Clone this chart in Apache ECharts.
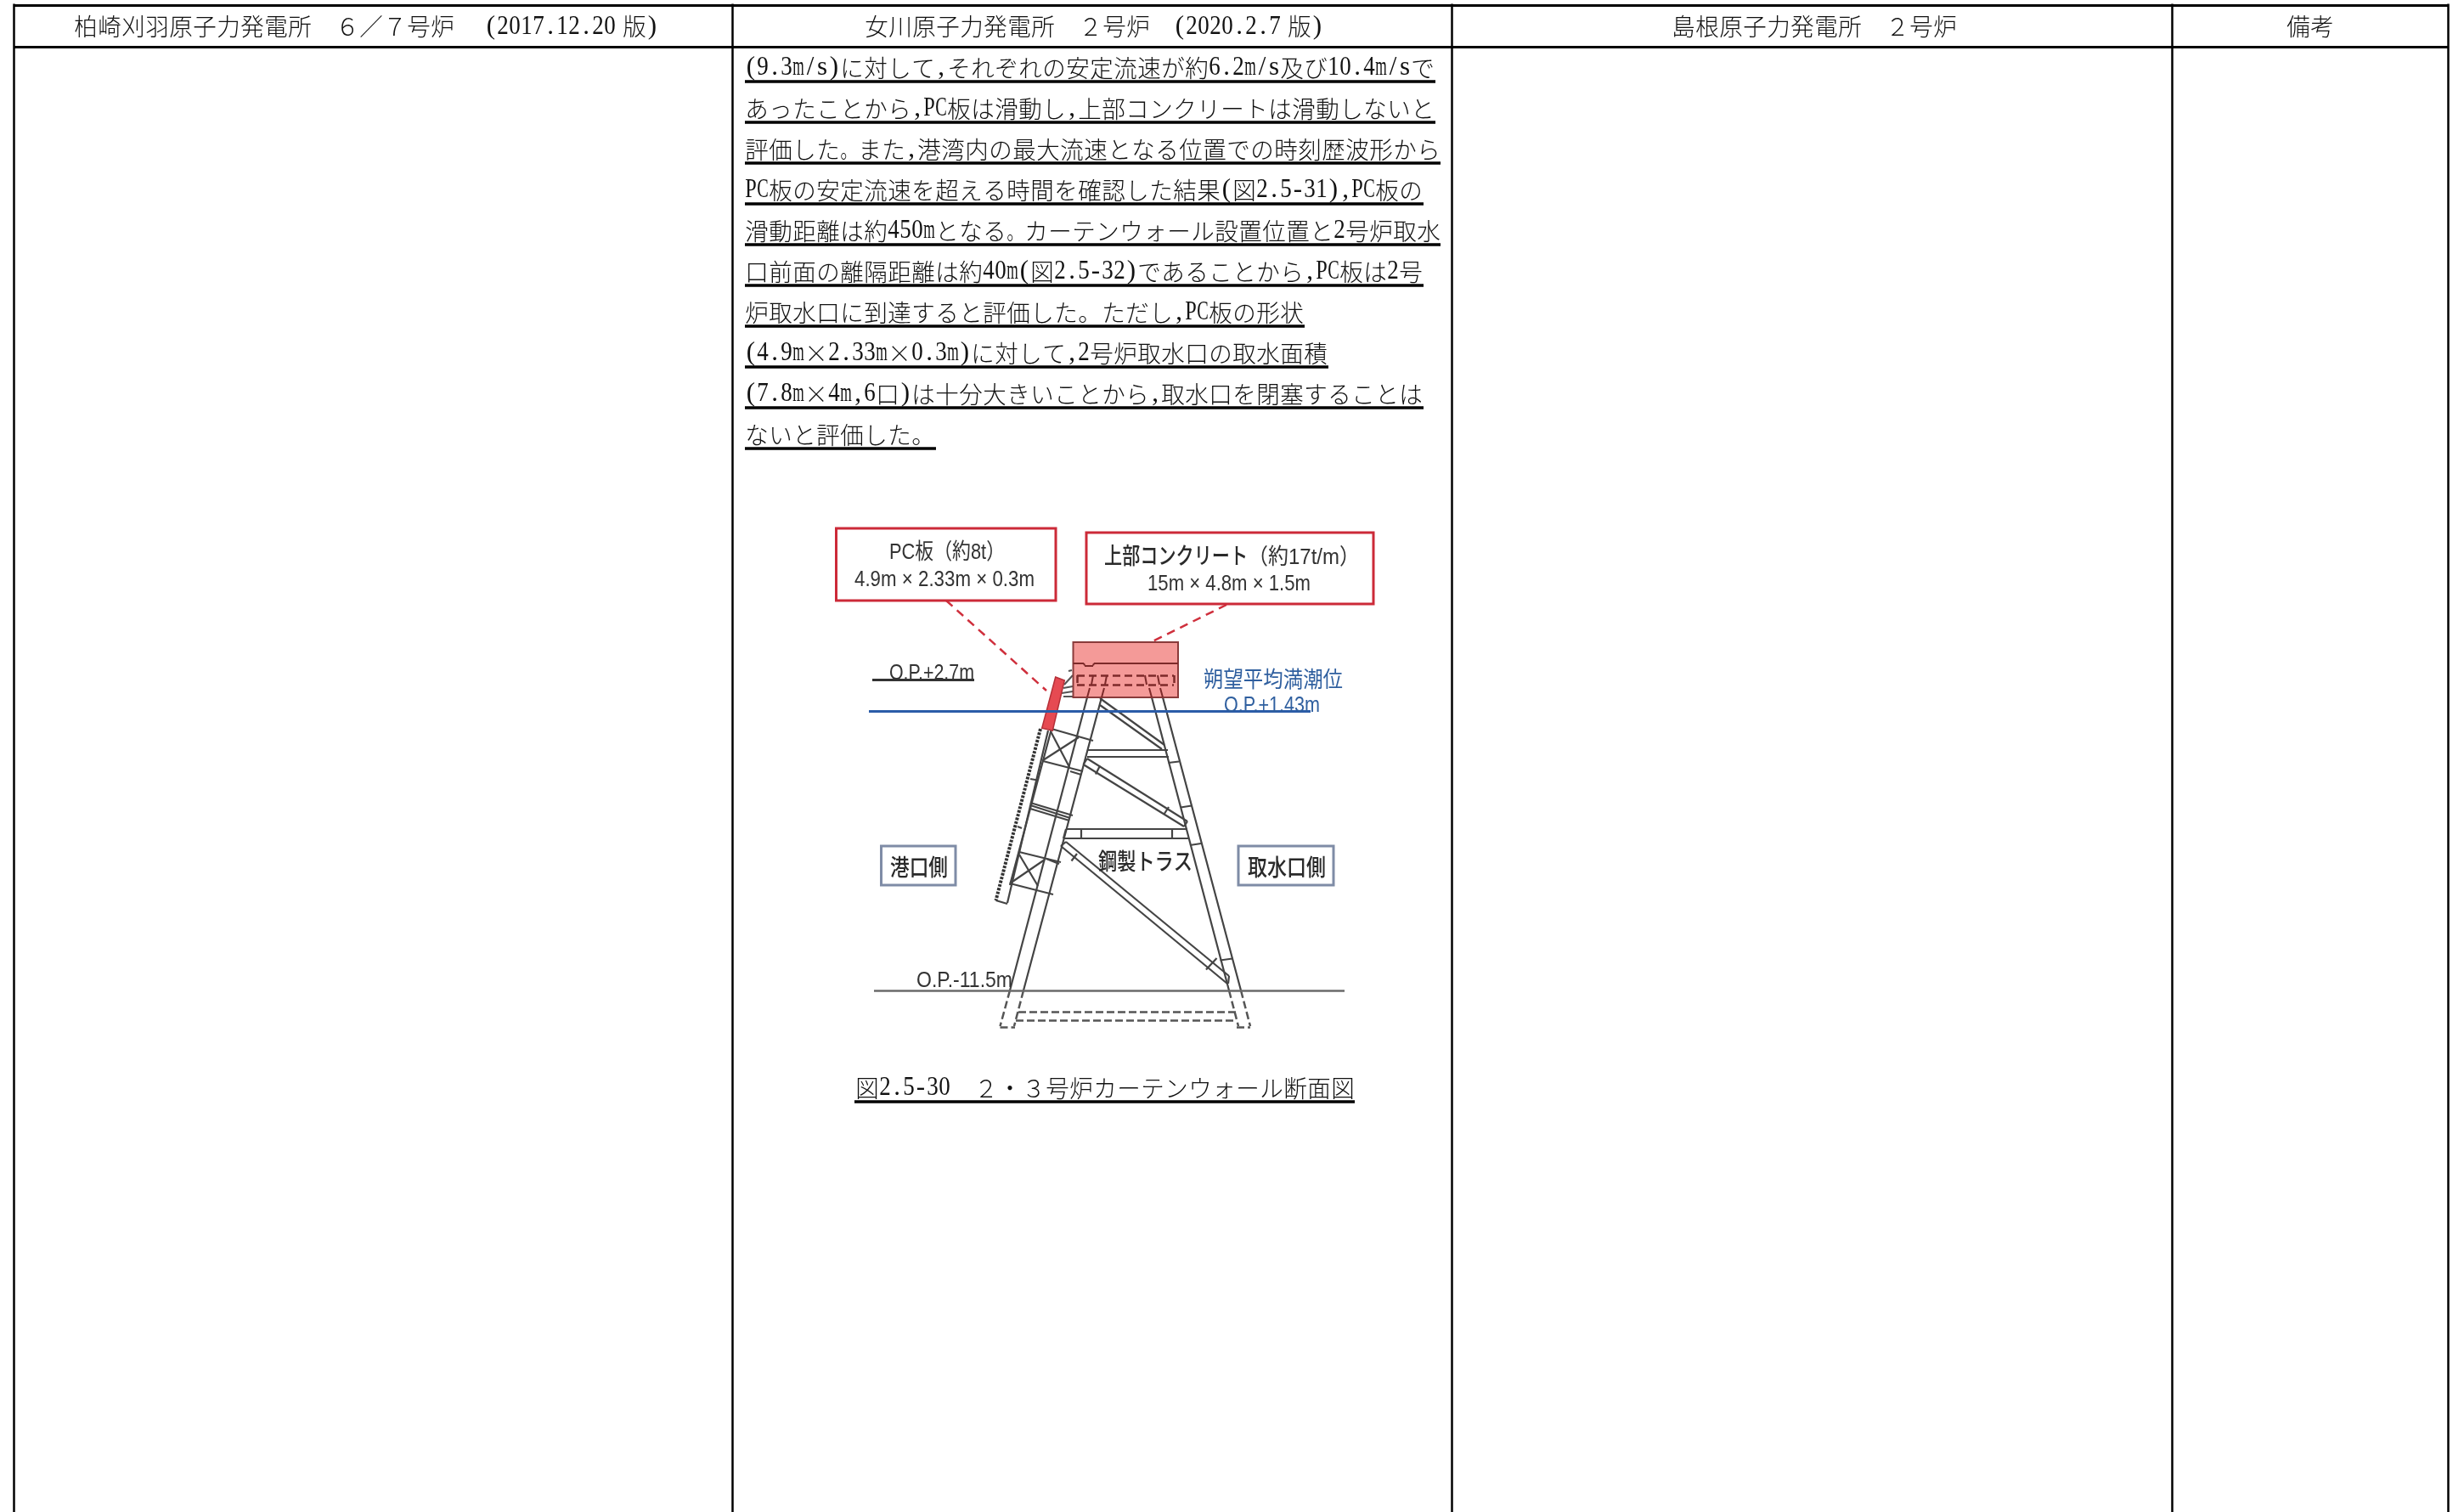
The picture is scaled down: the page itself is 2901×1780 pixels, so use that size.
<!DOCTYPE html>
<html lang="ja">
<head>
<meta charset="utf-8">
<title>カーテンウォール断面図</title>
<script src="https://cdn.jsdelivr.net/npm/echarts@6/dist/echarts.min.js"></script>
<style>
  html, body { margin: 0; padding: 0; background: #fff; }
  #chart { width: 2901px; height: 1780px; }
</style>
</head>
<body>
<div id="chart"></div>
<script>
// Page size, the axes run 1:1 with the picture
const pageWidth = 2901
const pageHeight = 1780

// Table
const columnEdges = [16.5, 862, 1709.5, 2557, 2882.5]
const ruleRows = [6, 55.5]

// Monospaced document text: [line, left of the first cell]
const headerTexts = [
  ['柏崎刈羽原子力発電所　６／７号炉　 (2017.12.20 版)', 87],
  ['女川原子力発電所　２号炉　(2020.2.7 版)', 1018],
  ['島根原子力発電所　２号炉', 1968],
  ['備考', 2692],
]

// Body text of the second column, [line, underline end]
const bodyLines = [
  ['(9.3m/s)に対して,それぞれの安定流速が約6.2m/s及び10.4m/sで', 1690],
  ['あったことから,PC板は滑動し,上部コンクリートは滑動しないと', 1690],
  ['評価した。また,港湾内の最大流速となる位置での時刻歴波形から', 1696],
  ['PC板の安定流速を超える時間を確認した結果(図2.5-31),PC板の', 1676],
  ['滑動距離は約450mとなる。カーテンウォール設置位置と2号炉取水', 1696],
  ['口前面の離隔距離は約40m(図2.5-32)であることから,PC板は2号', 1676],
  ['炉取水口に到達すると評価した。ただし,PC板の形状', 1536],
  ['(4.9m×2.33m×0.3m)に対して,2号炉取水口の取水面積', 1564],
  ['(7.8m×4m,6口)は十分大きいことから,取水口を閉塞することは', 1676],
  ['ないと評価した。', 1102],
]
const bodyLeft = 877
const bodyFirstUnderline = 96
const bodyLineStep = 48
const headerMiddle = 31.5

const captionText = ['図2.5-30　２・３号炉カーテンウォール断面図', 1007, 1281]
const captionUnderline = [1006, 1297, 1595, 1297]

// Diagram labels, [text, left, middle y, width]
const redBoxLabels = [
  ['PC板（約8t）', 1047, 651, 136],
  ['4.9m × 2.33m × 0.3m', 1006, 683, 212],
  ['15m × 4.8m × 1.5m', 1351, 688, 192],
  ['（約17t/m）', 1469, 657, 132],
]
const boldLabels = [
  ['上部コンクリート', 1300, 657, 169],
  ['鋼製トラス', 1293, 1017, 111],
  ['港口側', 1048, 1024, 68],
  ['取水口側', 1469, 1024, 92],
]
const darkLabels = [
  ['O.P.+2.7m', 1047, 793, 100],
  ['O.P.-11.5m', 1079, 1155, 113],
]
const blueLabels = [
  ['朔望平均満潮位', 1417, 802, 164],
  ['O.P.+1.43m', 1441, 831, 113],
]

// Diagram shapes, vertices as x, y
const redBoxes = [
  [[984.5, 622], [1243, 622], [1243, 707], [984.5, 707]],
  [[1279, 627], [1617, 627], [1617, 711], [1279, 711]],
]
const sideBoxes = [
  [[1037.5, 996], [1125, 996], [1125, 1042], [1037.5, 1042]],
  [[1458, 996], [1570, 996], [1570, 1042], [1458, 1042]],
]
const concreteBlock = [[1263.5, 756], [1387, 756], [1387, 821], [1263.5, 821]]
const pcPanel = [[1242.7, 797], [1253.3, 801], [1239.3, 860], [1226.7, 857.3]]

// Line work, [x1, y1, x2, y2]
const redLeaders = [
  [1114, 707, 1232, 813],
  [1444, 712, 1357, 755],
]
const levelLineDark = [[1027, 800, 1147, 800]]
const meanTideLine = [[1023, 837, 1543, 837]]
const seabedLine = [[1029, 1166, 1583, 1166]]
const blockLines = [
  [1263.5, 781, 1276, 781], [1276, 781, 1277, 783.3], [1277, 783.3, 1287, 783.3],
  [1287, 783.3, 1288, 781], [1288, 781, 1387, 781],
  [1283, 810, 1280, 821], [1300, 810, 1297, 821],
  [1353, 810, 1356, 821], [1366, 810, 1369, 821],
  [1287, 795, 1285, 806], [1303, 795, 1301, 806],
  [1348, 795, 1350, 806], [1363, 795, 1365, 806],
]
const blockDashed = [
  [1268, 795, 1382, 795], [1268, 806, 1382, 806],
  [1268, 795, 1268, 806], [1382, 795, 1382, 806],
]
const trussLines = [
  // legs
  [1280, 821, 1189, 1166], [1297, 821, 1205, 1166],
  [1356, 821, 1447, 1166], [1369, 821, 1461, 1166],
  // horizontal members
  [1281, 882.5, 1375, 882.5], [1280, 890.5, 1376, 890.5],
  [1255, 976, 1398, 976], [1252, 987, 1400, 987],
  [1272.5, 976, 1272.5, 987], [1380, 976, 1380, 987], [1255, 976, 1252, 987],
  // diagonals
  [1295, 822, 1371, 877], [1295, 830, 1368, 882],
  [1280, 893, 1398, 967], [1275.5, 900, 1394, 973], [1275.5, 900, 1280, 893], [1398, 967, 1394, 973],
  [1255, 991, 1447, 1149], [1249, 996, 1445, 1158], [1255, 991, 1249, 996], [1447, 1149, 1446, 1158],
  // ticks on braces and legs
  [1295, 901.5, 1290, 911.5], [1376, 950, 1370.5, 958.5],
  [1268, 1005, 1261.5, 1013.5], [1432.5, 1128, 1420, 1141.5],
  [1375.5, 898, 1388, 896.5], [1390, 950.5, 1403, 948.5],
  [1401, 995, 1414, 993], [1436.5, 1130.5, 1451, 1128.5],
  // panel frame
  [1234, 860, 1186, 1063], [1172.5, 1060, 1186, 1064],
  [1238, 858, 1189, 1042],
  // frame members and cross braces
  [1238, 858, 1287, 872], [1237, 861, 1259, 903], [1270, 868, 1228, 895], [1228, 896, 1275, 908],
  [1260, 908, 1273, 912],
  [1213, 945, 1263, 960], [1213, 948, 1260, 963], [1213, 952, 1259, 966],
  [1200, 1003, 1249, 1015], [1232, 1011, 1247, 1017],
  [1200, 1006, 1222, 1043], [1230, 1012, 1189, 1040], [1189, 1040, 1240, 1053],
  [1213, 917, 1222, 918.5], [1198, 973, 1203, 975],
]
const panelEdge = [[1225, 858, 1172.5, 1060]]
const foundationDashed = [
  [1189, 1166, 1177.5, 1208], [1205, 1166, 1194, 1208], [1177.5, 1209, 1195, 1209],
  [1447, 1166, 1458, 1208], [1461, 1166, 1472, 1208], [1456, 1209, 1472, 1209],
  [1199, 1191, 1455, 1191], [1196, 1201, 1456, 1201],
]
const blockBolts = [
  [1253, 806, 1263, 795], [1252, 810, 1263, 808], [1250, 816, 1263, 814],
  [1258, 790, 1262, 789], [1252, 820, 1263, 820],
]

const CJK_FONT = '"Noto Sans CJK JP",sans-serif'
const LATIN_FONT = '"Liberation Serif",serif'
const DIAGRAM_FONT = '"Liberation Sans","Noto Sans CJK JP",sans-serif'
const CELL = 28
const measure = document.createElement('canvas').getContext('2d')

// Bare line segments, one style per call
function lineSeries(segments, color, width, dash, z) {
  return {
    type: 'lines',
    coordinateSystem: 'cartesian2d',
    polyline: false,
    silent: true,
    z,
    lineStyle: { color, width, type: dash || 'solid', opacity: 1, cap: 'butt' },
    data: segments.map(s => ({ coords: [[s[0], s[1]], [s[2], s[3]]] })),
  }
}

// Closed shapes
function polygonSeries(polygons, fill, stroke, lineWidth, z) {
  return {
    type: 'custom',
    coordinateSystem: 'cartesian2d',
    silent: true,
    z,
    clip: false,
    data: polygons.map((p, i) => [p[0][0], p[0][1], i]),
    renderItem(params, api) {
      const points = polygons[api.value(2)].map(p => api.coord(p))
      return { type: 'polygon', shape: { points }, style: { fill, stroke, lineWidth } }
    },
  }
}

// Text stretched to the width it has on the page, [text, left, middle y, width]
function textSeries(items, font, color, z) {
  return {
    type: 'custom',
    coordinateSystem: 'cartesian2d',
    silent: true,
    z,
    clip: false,
    data: items.map((t, i) => [t[1], t[2], i]),
    renderItem(params, api) {
      const item = items[api.value(2)]
      const [x, y] = api.coord([item[1], item[2]])
      measure.font = font
      const scaleX = item[3] / measure.measureText(item[0]).width
      return {
        type: 'text', x, y, scaleX,
        style: { text: item[0], font, fill: color, textAlign: 'left', textVerticalAlign: 'middle' },
      }
    },
  }
}

function cellAdvance(ch) {
  if (ch === ' ') return 8
  return ch.charCodeAt(0) < 128 ? CELL / 2 : CELL
}

// The document text sits on a fixed grid: full cells for kana and kanji, half cells for ASCII.
// A justified line that runs past its end takes the excess out of its full stop.
function cellText(line, x, y, end) {
  const natural = [...line].reduce((sum, ch) => sum + cellAdvance(ch), 0)
  const excess = end ? Math.max(0, x + natural - end) : 0
  const children = []
  let cursor = x
  for (const ch of line) {
    const half = ch.charCodeAt(0) < 128
    const advance = ch === '。' ? cellAdvance(ch) - excess : cellAdvance(ch)
    if (ch !== ' ' && ch !== '　') {
      const font = half ? `400 31px ${LATIN_FONT}` : `300 ${CELL}px ${CJK_FONT}`
      measure.font = font
      const scaleX = Math.min(1, (advance - 0.5) / measure.measureText(ch).width)
      children.push({
        type: 'text', x: cursor + advance / 2, y, scaleX,
        style: { text: ch, font, fill: '#111', textAlign: 'center', textVerticalAlign: 'middle' },
      })
    }
    cursor += advance
  }
  return children
}

function documentSeries(items, z) {
  return {
    type: 'custom',
    coordinateSystem: 'cartesian2d',
    silent: true,
    z,
    clip: false,
    data: items.map((t, i) => [t[1], t[2], i]),
    renderItem(params, api) {
      const item = items[api.value(2)]
      const [x, y] = api.coord([item[1], item[2]])
      return { type: 'group', children: cellText(item[0], x, y, item[3]) }
    },
  }
}

const bodyItems = bodyLines.map((l, i) => [l[0], bodyLeft, bodyFirstUnderline + i * bodyLineStep - 16, l[1]])
const bodyUnderlines = bodyLines.map((l, i) => {
  const y = bodyFirstUnderline + i * bodyLineStep
  return [bodyLeft, y, l[1], y]
})
const headerItems = headerTexts.map(h => [h[0], h[1], headerMiddle])
const columnLines = columnEdges.map(x => [x, ruleRows[0] - 1.5, x, pageHeight])
const rowLines = ruleRows.map(y => [columnEdges[0], y, columnEdges[columnEdges.length - 1], y])

const chart = echarts.init(document.getElementById('chart'), null, { renderer: 'canvas' })

chart.setOption({
  animation: false,
  backgroundColor: '#fff',
  grid: { left: 0, right: 0, top: 0, bottom: 0 },
  xAxis: { type: 'value', min: 0, max: pageWidth, show: false },
  yAxis: { type: 'value', min: 0, max: pageHeight, inverse: true, show: false },
  series: [
    lineSeries(columnLines, '#000', 2.5, null, 2),
    lineSeries(rowLines, '#000', 3, null, 2),
    documentSeries(headerItems, 3),
    documentSeries(bodyItems, 3),
    lineSeries(bodyUnderlines, '#000', 3.5, null, 3),
    documentSeries([captionText], 3),
    lineSeries([captionUnderline], '#000', 3.5, null, 3),

    lineSeries(redLeaders, '#cf2f3c', 2.5, [10, 7], 4),
    polygonSeries(redBoxes, '#fff', '#cc2a38', 3, 4),
    polygonSeries(sideBoxes, '#fff', '#7f8ca6', 3, 4),

    lineSeries(trussLines, '#444', 2.2, null, 5),
    lineSeries(blockBolts, '#555', 2, null, 5),
    lineSeries(panelEdge, '#333', 4, [3, 1.5], 5),
    lineSeries(foundationDashed, '#555', 2.5, [9, 4], 5),
    polygonSeries([concreteBlock], '#f49a98', '#8a3b3b', 2, 6),
    lineSeries(blockLines, '#7d2a2a', 2, null, 7),
    lineSeries(blockDashed, '#7d2a2a', 2.5, [9, 5], 7),
    polygonSeries([pcPanel], '#e64a52', '#b53038', 1.5, 7),
    lineSeries(levelLineDark, '#333', 3, null, 7),
    lineSeries(seabedLine, '#6a6a6a', 2.5, null, 7),
    lineSeries(meanTideLine, '#2b5ca8', 3, null, 8),

    textSeries(redBoxLabels, `400 26px ${DIAGRAM_FONT}`, '#333', 9),
    textSeries(boldLabels, `500 27px ${DIAGRAM_FONT}`, '#2a2a2a', 9),
    textSeries(darkLabels, `400 26px ${DIAGRAM_FONT}`, '#333', 9),
    textSeries(blueLabels, `400 26px ${DIAGRAM_FONT}`, '#2f5f9f', 9),
  ],
})
</script>
</body>
</html>
